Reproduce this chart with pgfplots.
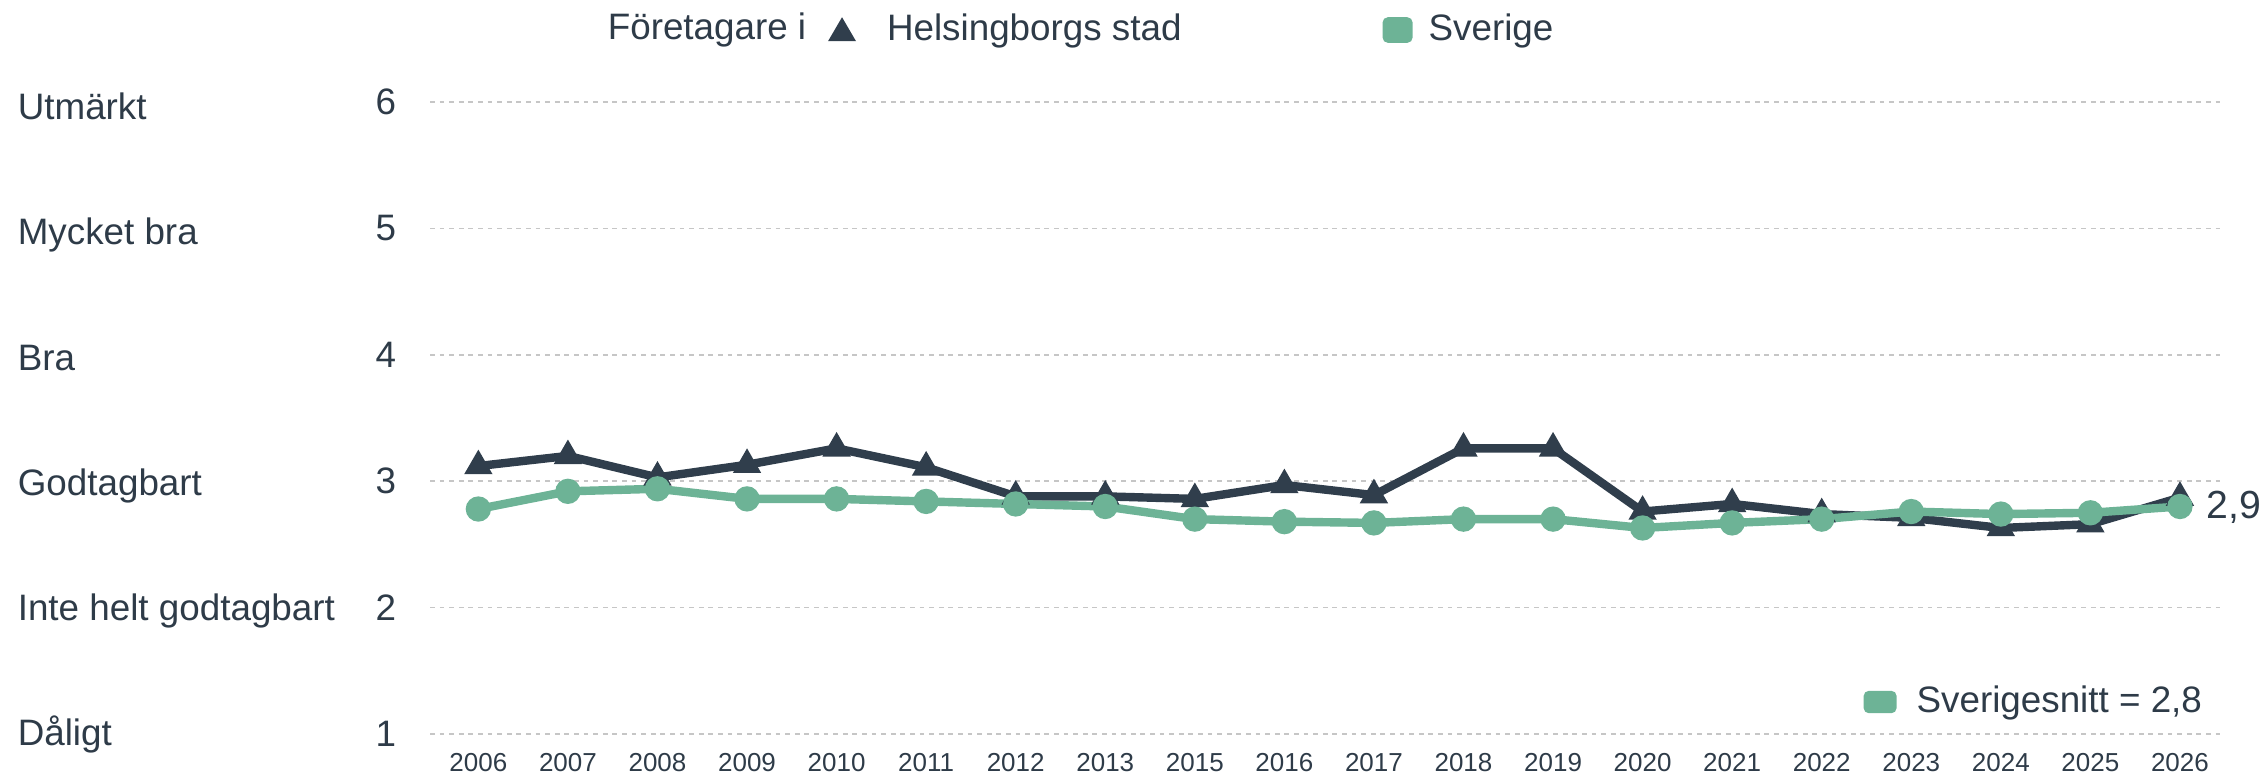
\documentclass[border=0pt]{standalone}
\usepackage{fontspec}
\setmainfont{Liberation Sans}
\usepackage{pgfplots}
\pgfplotsset{compat=1.18}
\usepackage{pgfplotstable}

\definecolor{hbg}{HTML}{303E4C}
\definecolor{se}{HTML}{6DB396}
\definecolor{txt}{HTML}{2E3B48}
\definecolor{gridc}{HTML}{C6C6C6}

% x = index of year (2014 is missing in the source)
\pgfplotstableread{
x hbg se
0 3.12 2.78
1 3.20 2.92
2 3.03 2.94
3 3.13 2.86
4 3.26 2.86
5 3.11 2.84
6 2.88 2.82
7 2.88 2.80
8 2.86 2.70
9 2.97 2.68
10 2.89 2.67
11 3.26 2.70
12 3.26 2.70
13 2.76 2.63
14 2.82 2.67
15 2.74 2.70
16 2.71 2.76
17 2.63 2.74
18 2.66 2.75
19 2.87 2.80
}\datatable

\newcommand{\lbl}{\fontsize{9.2}{11}\selectfont}

\begin{document}
\begin{tikzpicture}[x=1pt,y=1pt]
\useasboundingbox (0,0) rectangle (566.25,-194.75);
\begin{axis}[
    at={(107.5pt,-183.5pt)}, anchor=south west,
    scale only axis, width=448pt, height=158pt,
    xmin=-0.54, xmax=19.47, ymin=1, ymax=6,
    clip=false,
    axis line style={draw=none},
    major tick length=0pt,
    xtick={0,...,19},
    xticklabels={2006,2007,2008,2009,2010,2011,2012,2013,2015,2016,2017,2018,2019,2020,2021,2022,2023,2024,2025,2026},
    ytick={1,2,3,4,5,6},
    ymajorgrids,
    grid style={gridc, line width=0.4pt, dash pattern=on 1.2pt off 1.2pt},
    /pgf/number format/assume math mode=true,
    tick label style={text=txt},
    xticklabel style={font=\fontsize{6.5}{7}\selectfont, anchor=center, yshift=-7.25pt, inner sep=0pt},
    yticklabel style={font=\lbl, anchor=east, xshift=-8.25pt, inner sep=0pt},
    legend columns=2,
    legend style={at={(0.2221,1.1139)}, anchor=west, draw=none, fill=none,
        inner sep=0pt, outer sep=0pt, column sep=0pt,
        font=\lbl, text=txt, nodes={inner sep=0pt}},
]
\addplot[hbg, line width=2.1pt, mark=triangle*, mark size=2.0pt, forget plot]
    table[x=x, y=hbg] {\datatable};
\addplot[se, line width=2.1pt, mark=*, mark size=2.1pt, forget plot]
    table[x=x, y=se] {\datatable};

\addlegendimage{legend image code/.code={
    \path[draw=none] (0pt,0pt) -- (14.75pt,0pt);
    \fill[hbg, draw=none] (0pt,-2.8pt) -- (7pt,-2.8pt) -- (3.5pt,3.2pt) -- cycle;}}
\addlegendentry{Helsingborgs stad}
\addlegendimage{legend image code/.code={
    \path[draw=none] (-50.25pt,0pt) -- (11.5pt,0pt);
    \fill[se, draw=none, rounded corners=1.3pt] (0pt,-3.2pt) rectangle (7.5pt,3.2pt);}}
\addlegendentry{Sverige}

\node[anchor=west, inner sep=0pt, font=\fontsize{9.8}{11}\selectfont, text=txt] at (axis cs:19,2.79) [xshift=6.5pt] {2,9};
\end{axis}

\begin{axis}[
    at={(107.5pt,-183.5pt)}, anchor=south west,
    scale only axis, width=448pt, height=158pt,
    xmin=-0.54, xmax=19.47, ymin=1, ymax=6,
    hide axis,
    legend style={at={(0.9888,0.0506)}, anchor=east, draw=none, fill=none,
        inner sep=0pt, outer sep=0pt, font=\lbl, text=txt, nodes={inner sep=0pt}},
]
\addlegendimage{legend image code/.code={
    \fill[se, draw=none, rounded corners=1.3pt] (0pt,-2.8pt) rectangle (8.25pt,2.8pt);
    \path[draw=none] (13.25pt,0pt);}}
\addlegendentry{Sverigesnitt = 2,8}
\end{axis}

\node[anchor=base west, inner sep=0pt, font=\lbl, text=txt] at (151.75,-10) {Företagare i};

\foreach \k/\t in {1/Dåligt,2/Inte helt godtagbart,3/Godtagbart,4/Bra,5/Mycket bra,6/Utmärkt}{
    \node[anchor=base west, inner sep=0pt, font=\lbl, text=txt] at (4.25,{-(745-125*(\k-1))*0.25}) {\t};
}
\end{tikzpicture}
\end{document}
